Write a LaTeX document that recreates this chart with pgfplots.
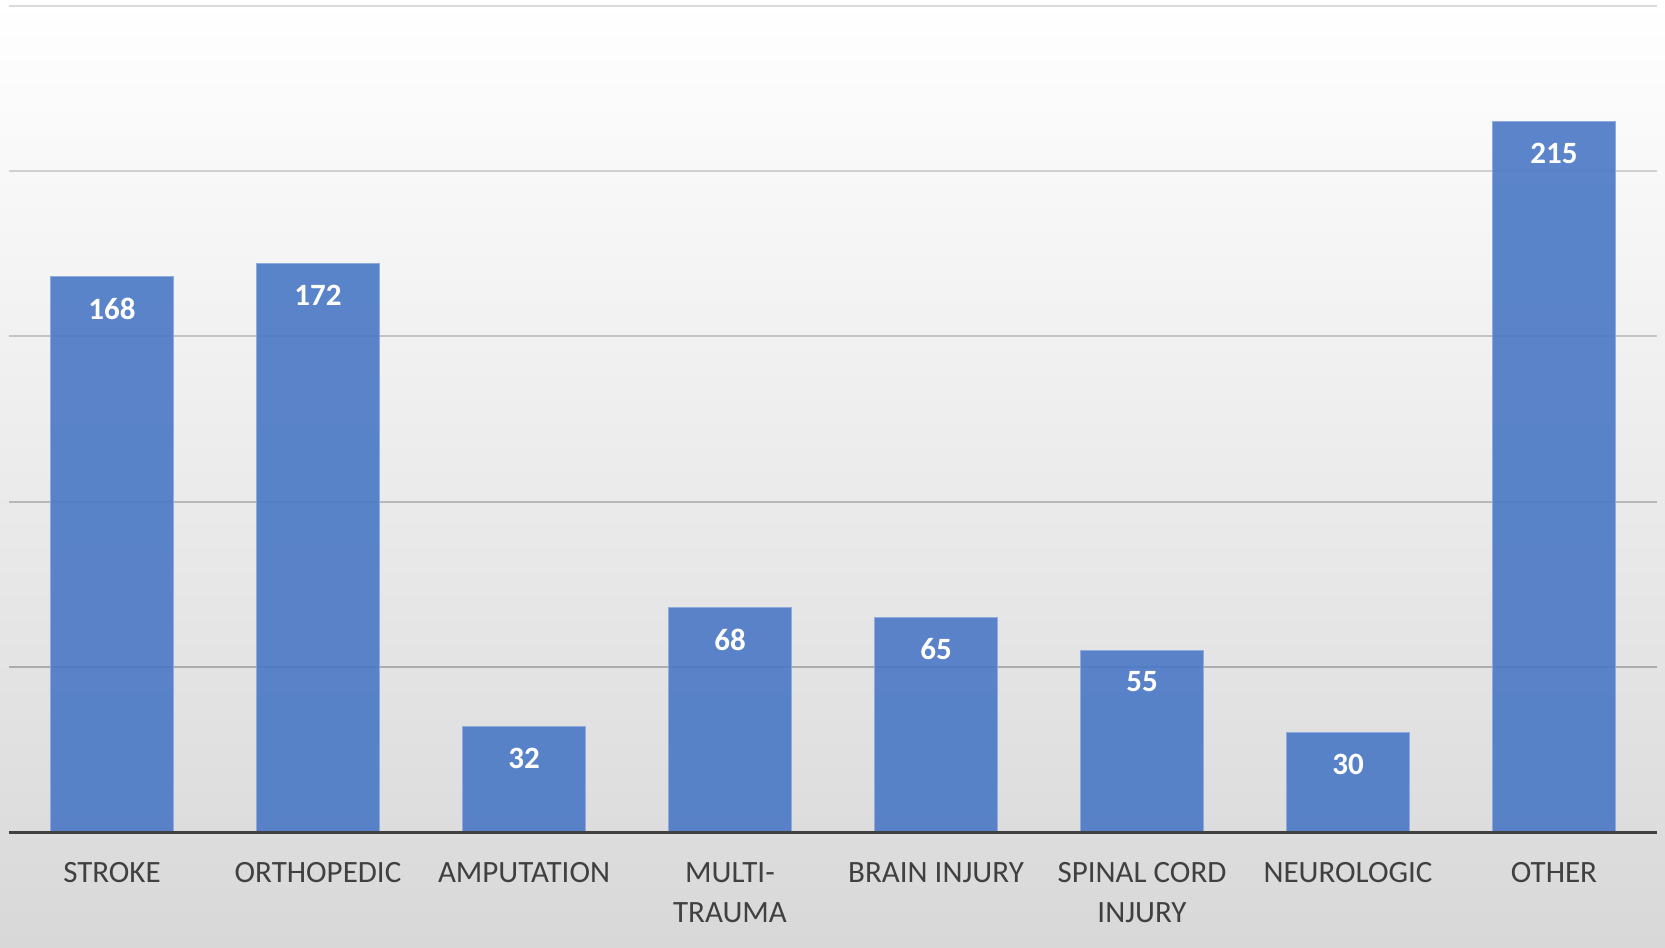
\documentclass[border=0pt]{standalone}
\usepackage{pgfplots}
\pgfplotsset{compat=1.18}
\usepackage{fontspec}
\setmainfont{Carlito}

\definecolor{barblue}{HTML}{4A78C6}
\definecolor{baredge}{HTML}{8FAADC}
\definecolor{axisgray}{HTML}{404040}
\definecolor{labelgray}{HTML}{404040}
\definecolor{bgbottom}{HTML}{D8D8D8}
\definecolor{gridA}{HTML}{ACACAC}
\definecolor{gridB}{HTML}{B8B8B8}
\definecolor{gridC}{HTML}{C4C4C4}
\definecolor{gridD}{HTML}{D0D0D0}
\definecolor{gridE}{HTML}{DADADA}

\begin{document}
\begin{tikzpicture}
% background, 1px = 0.5bp
\shade[top color=white, bottom color=bgbottom] (0,0) rectangle (832.5bp,474bp);
\begin{axis}[
    at={(4.5bp,58bp)}, anchor=south west,
    scale only axis,
    width=824bp, height=413bp,
    xmin=-0.5, xmax=7.5,
    ymin=0, ymax=250,
    ytick=\empty,
    xtick={0,...,7},
    xticklabels={STROKE, ORTHOPEDIC, AMPUTATION, {MULTI-\\TRAUMA}, BRAIN INJURY, {SPINAL CORD\\INJURY}, NEUROLOGIC, OTHER},
    axis line style={draw=none},
    tick style={draw=none},
    xticklabel style={font=\fontsize{15.5bp}{20bp}\selectfont, text=labelgray, align=center, inner sep=0pt, yshift=-15bp},
    /pgf/number format/assume math mode=true,
    clip=false,
]
    % gridlines (darker towards the bottom)
    \addplot[sharp plot, no marks, draw=gridA, line width=1bp] coordinates {(-0.5,50) (7.5,50)};
    \addplot[sharp plot, no marks, draw=gridB, line width=1bp] coordinates {(-0.5,100) (7.5,100)};
    \addplot[sharp plot, no marks, draw=gridC, line width=1bp] coordinates {(-0.5,150) (7.5,150)};
    \addplot[sharp plot, no marks, draw=gridD, line width=1bp] coordinates {(-0.5,200) (7.5,200)};
    \addplot[sharp plot, no marks, draw=gridE, line width=1bp] coordinates {(-0.5,250) (7.5,250)};
    % cases per category
    \addplot[ybar, bar width=0.6, fill=barblue, fill opacity=0.9, draw=baredge, line width=0.5bp, text opacity=1,
        nodes near coords,
        every node near coord/.append style={font=\bfseries\fontsize{15.5bp}{18bp}\selectfont, text=white, anchor=north, inner sep=0pt, yshift=-10.5bp}]
    coordinates {
        (0,168) (1,172) (2,32) (3,68) (4,65) (5,55) (6,30) (7,215)
    };
    % horizontal axis line
    \addplot[sharp plot, no marks, draw=axisgray, line width=1.5bp] coordinates {(-0.5,0) (7.5,0)};
\end{axis}
\end{tikzpicture}
\end{document}
